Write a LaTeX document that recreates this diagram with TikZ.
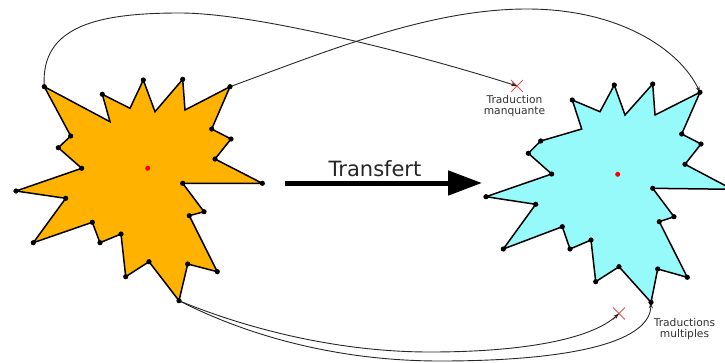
\documentclass[tikz,border=0pt]{standalone}
\usepackage{fontspec}
\setmainfont{DejaVu Sans}
\usetikzlibrary{arrows.meta,shapes.misc}
\definecolor{starorange}{RGB}{255,178,0}
\definecolor{starcyan}{RGB}{150,250,250}
\definecolor{crossred}{RGB}{225,80,80}
\definecolor{linkgray}{RGB}{40,40,40}
\definecolor{labelgray}{RGB}{50,50,50}
\tikzset{
  starshape/.style={draw=black, line width=1.5pt, line join=miter},
  centerdot/.style={fill=red, circle, inner sep=0pt, minimum size=5pt},
  missx/.style={cross out, draw=crossred, line width=0.9pt, minimum size=11pt, inner sep=0pt},
  link/.style={draw=linkgray, line width=0.9pt, -{Stealth[length=6pt,width=4pt]}},
  lbl/.style={font=\fontsize{10.7}{11}\selectfont, text=labelgray, align=center, inner sep=0pt},
  transferarrow/.style={draw=black, line width=5pt, -{Triangle[length=34pt,width=24pt]}},
}
\begin{document}
\begin{tikzpicture}[x=1pt,y=-1pt]
\useasboundingbox (0,0) rectangle (725,362);
\clip (0,0) rectangle (725,362);
% orange star vertices
\foreach \n/\x/\y in {1/44.3/86.7, 2/110/121.7, 3/102.3/94.3, 4/130/108.3, 5/143.3/80,
  6/155/111.7, 7/182.7/79.3, 8/185/110, 9/230/86.7, 10/211.7/129, 11/231/139,
  12/215/159, 13/262.3/183.3, 14/182.7/183.3, 15/204/211.7, 16/189.3/215.7,
  17/217.3/271.7, 18/187.7/264, 19/179/300.7, 20/149/261.7, 21/125.7/276.7,
  22/121/234, 23/100/242.7, 24/92.3/222.3, 25/33.3/242.7, 26/65.7/198.3,
  27/16/191, 28/81.7/168.3, 29/58.3/147.7, 30/70.7/136}
  \coordinate (o\n) at (\x,\y);
% cyan star vertices
\foreach \n/\x/\y in {1/572.3/100, 2/600/111.7, 3/614.3/85, 4/625/115, 5/652.7/84,
  6/655/115, 7/700/92.3, 8/681.7/134, 9/701/144, 10/685/164.3, 11/732.3/189.3,
  12/652.7/188.3, 13/674/216.7, 14/659.3/221.7, 15/687.3/277.3, 16/657.7/269,
  17/651/302.3, 18/619/266.7, 19/595.7/281.7, 20/591/240, 21/570/249,
  22/562.3/226.7, 23/503.3/249, 24/535.7/204.3, 25/486/196.7, 26/551.7/174,
  27/528.3/153.3, 28/540.7/141, 29/581.7/129}
  \coordinate (c\n) at (\x,\y);

\draw[starshape, fill=starorange] (o1) -- (o2) -- (o3) -- (o4) -- (o5) -- (o6) -- (o7) -- (o8)
  -- (o9) -- (o10) -- (o11) -- (o12) -- (o13) -- (o14) -- (o15) -- (o16) -- (o17) -- (o18)
  -- (o19) -- (o20) -- (o21) -- (o22) -- (o23) -- (o24) -- (o25) -- (o26) -- (o27) -- (o28)
  -- (o29) -- (o30) -- cycle;
\draw[starshape, fill=starcyan] (c1) -- (c2) -- (c3) -- (c4) -- (c5) -- (c6) -- (c7) -- (c8)
  -- (c9) -- (c10) -- (c11) -- (c12) -- (c13) -- (c14) -- (c15) -- (c16) -- (c17) -- (c18)
  -- (c19) -- (c20) -- (c21) -- (c22) -- (c23) -- (c24) -- (c25) -- (c26) -- (c27) -- (c28)
  -- (c29) -- cycle;

\node[centerdot] (ocenter) at (147.7,168.3) {};
\node[centerdot] (ccenter) at (617.7,174.3) {};

% crosses and labels
\node[missx] (xmiss) at (517,86) {};
\node[missx] (xmulti) at (619,313.5) {};
\node[lbl, anchor=north] (lmiss) at (514.5,95) {Traduction\\manquante};
\node[lbl, anchor=north] (lmulti) at (684.5,318) {Traductions\\multiples};

% links
\draw[link] (o1) .. controls (40,25) and (100,13) .. (180,13)
  .. controls (260,13) and (430,58) .. (xmiss.center);
\draw[link] (o9) .. controls (330,50) and (430,9) .. (527,9)
  .. controls (620,9) and (680,50) .. (c7);
\draw[link] (o19) .. controls (250,330) and (340,352) .. (430,352)
  .. controls (520,352) and (590,340) .. (xmulti.center);
\draw[link] (o19) .. controls (250,337) and (340,361) .. (440,361)
  .. controls (560,361) and (650,345) .. (c17);

% vertex dots
\foreach \n in {1,3,5,7,9,10,11,12,13,14,15,16,17,18,19,20,21,22,23,24,25,26,27,28,29,30}
  \fill (o\n) circle (2.6);
\foreach \n in {1,3,5,7,8,9,10,11,12,13,14,15,16,17,18,19,20,21,22,23,24,25,26,27,28}
  \fill (c\n) circle (2.6);

% transfer arrow
\coordinate (tstart) at (285,183);
\coordinate (tend) at (482,183);
\draw[transferarrow] (tstart) -- (tend);
\node[font=\fontsize{21}{25}\selectfont, anchor=base, text=black!85, inner sep=0pt] (transfert) at (375,176) {Transfert};
\end{tikzpicture}
\end{document}
